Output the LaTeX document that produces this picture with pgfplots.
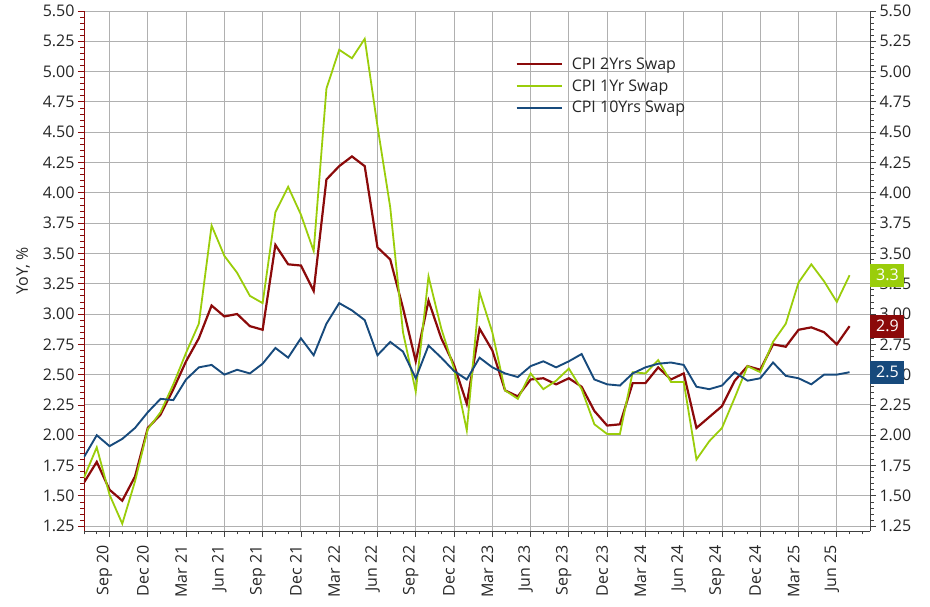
\documentclass[border=0pt]{standalone}
\usepackage{pgfplots}
\pgfplotsset{compat=1.18}
\usepackage{fontspec}
\setmainfont{Open Sans}
\definecolor{cred}{HTML}{8B0A0A}
\definecolor{cgreen}{HTML}{9ACD0A}
\definecolor{cblue}{HTML}{174A7C}
\definecolor{gridc}{HTML}{B0B0B0}
\definecolor{txt}{HTML}{262626}

\pgfplotstableread{
i two one ten
0 1.61 1.65 1.82
1 1.78 1.90 2.00
2 1.55 1.51 1.91
3 1.46 1.27 1.97
4 1.66 1.62 2.06
5 2.06 2.05 2.19
6 2.17 2.19 2.30
7 2.38 2.42 2.29
8 2.61 2.68 2.46
9 2.80 2.92 2.56
10 3.07 3.73 2.58
11 2.98 3.48 2.50
12 3.00 3.34 2.54
13 2.90 3.15 2.51
14 2.87 3.09 2.59
15 3.57 3.84 2.72
16 3.41 4.05 2.64
17 3.40 3.82 2.80
18 3.19 3.52 2.66
19 4.11 4.86 2.92
20 4.22 5.18 3.09
21 4.30 5.11 3.03
22 4.22 5.27 2.95
23 3.55 4.55 2.66
24 3.45 3.88 2.77
25 3.05 2.85 2.69
26 2.61 2.36 2.47
27 3.11 3.31 2.74
28 2.80 2.88 2.64
29 2.58 2.55 2.53
30 2.26 2.04 2.46
31 2.88 3.18 2.64
32 2.70 2.85 2.56
33 2.37 2.37 2.51
34 2.32 2.30 2.48
35 2.46 2.51 2.57
36 2.47 2.38 2.61
37 2.42 2.45 2.56
38 2.47 2.55 2.61
39 2.40 2.38 2.67
40 2.20 2.09 2.46
41 2.08 2.01 2.42
42 2.09 2.01 2.41
43 2.43 2.52 2.51
44 2.43 2.51 2.56
45 2.56 2.62 2.59
46 2.46 2.44 2.60
47 2.51 2.44 2.58
48 2.06 1.80 2.40
49 2.15 1.95 2.38
50 2.24 2.06 2.41
51 2.45 2.31 2.52
52 2.57 2.57 2.45
53 2.54 2.52 2.47
54 2.75 2.77 2.60
55 2.73 2.92 2.49
56 2.87 3.26 2.47
57 2.89 3.41 2.42
58 2.85 3.27 2.50
59 2.75 3.10 2.50
60 2.90 3.32 2.52
}\swapdata

\begin{document}
\begin{tikzpicture}
\useasboundingbox (0,0) rectangle (930pt,607pt);
\pgfplotsset{
  base/.style={
    at={(84pt,76pt)}, anchor=south west,
    width=786pt, height=520pt, scale only axis,
    xmin=0, xmax=61.6, ymin=1.21, ymax=5.5,
    ytick={1.25,1.5,1.75,2,2.25,2.5,2.75,3,3.25,3.5,3.75,4,4.25,4.5,4.75,5,5.25,5.5},
    minor y tick num=4,
    tick align=outside,
    major tick length=6pt, minor tick length=3.5pt,
    /pgf/number format/assume math mode=true,
    yticklabel style={font=\fontsize{16}{19}\selectfont, text=txt,
      /pgf/number format/fixed, /pgf/number format/fixed zerofill,
      /pgf/number format/precision=2},
  }
}
\begin{axis}[base,
  axis y line*=left, axis x line*=bottom,
  x axis line style={-, draw=black!75, line width=0.9pt},
  y axis line style={-, draw=cred, line width=0.9pt},
  every x tick/.append style={draw=black!75, line width=0.8pt},
  every y tick/.append style={draw=cred, line width=0.8pt},
  xtick={2,5,...,59},
  minor xtick={0,1,...,61},
  xticklabels={Sep 20,Dec 20,Mar 21,Jun 21,Sep 21,Dec 21,Mar 22,Jun 22,Sep 22,Dec 22,Mar 23,Jun 23,Sep 23,Dec 23,Mar 24,Jun 24,Sep 24,Dec 24,Mar 25,Jun 25},
  xticklabel style={xshift=-5pt, yshift=-5pt, rotate=90, anchor=east, font=\fontsize{16}{19}\selectfont, text=txt},
  xmajorgrids, ymajorgrids,
  major grid style={draw=gridc, line width=0.9pt},
  ylabel={YoY, \%},
  ylabel shift=6pt,
  ylabel style={font=\fontsize{16}{19}\selectfont, text=txt},
  legend style={at={(rel axis cs:0.545,0.918)}, anchor=north west, draw=none, fill=none,
    font=\fontsize{16}{19}\selectfont, text=txt, row sep=4.5pt},
  legend cell align=left,
  legend image code/.code={\draw[#1] (0pt,0pt) -- (45pt,0pt); \path (52pt,0pt);},
]
\addplot[cred, line width=2.2pt] table[x=i, y=two] {\swapdata};
\addlegendentry{CPI 2Yrs Swap}
\addplot[cgreen, line width=1.8pt] table[x=i, y=one] {\swapdata};
\addlegendentry{CPI 1Yr Swap}
\addplot[cblue, line width=1.9pt] table[x=i, y=ten] {\swapdata};
\addlegendentry{CPI 10Yrs Swap}
\end{axis}
\begin{axis}[base,
  axis x line=none, axis y line*=right,
  y axis line style={-, draw=black!75, line width=0.9pt},
  every y tick/.append style={draw=black!75, line width=0.8pt},
]
\addplot[draw=none] coordinates {(0,2)};
\end{axis}
\begin{axis}[base, hide axis, clip=false]
\addplot[draw=none] coordinates {(0,2)};
\node[fill=cgreen, text=white, anchor=west, minimum width=34pt, minimum height=23pt, inner sep=0pt, font=\fontsize{16}{19}\selectfont] at (axis cs:61.62,3.32) {3.3};
\node[fill=cred, text=white, anchor=west, minimum width=34pt, minimum height=23pt, inner sep=0pt, font=\fontsize{16}{19}\selectfont] at (axis cs:61.62,2.90) {2.9};
\node[fill=cblue, text=white, anchor=west, minimum width=34pt, minimum height=23pt, inner sep=0pt, font=\fontsize{16}{19}\selectfont] at (axis cs:61.62,2.52) {2.5};
\end{axis}
\end{tikzpicture}
\end{document}
